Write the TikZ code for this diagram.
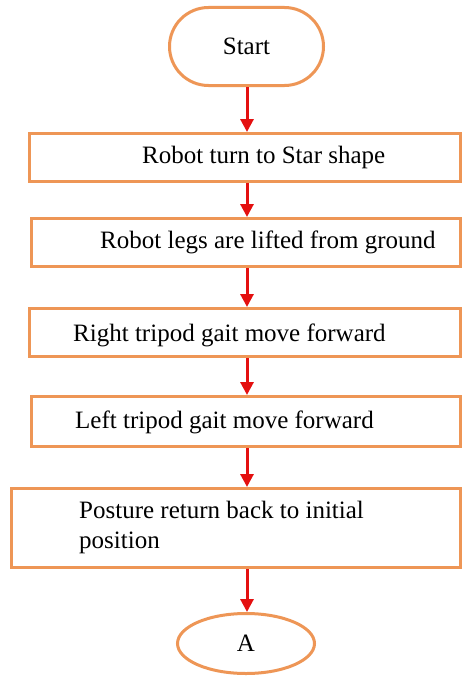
\documentclass[tikz,border=0pt]{standalone}
\usepackage{fontspec}
\setmainfont{Liberation Serif}
\usetikzlibrary{arrows.meta,shapes.geometric}
\definecolor{boxorange}{RGB}{238,150,86}
\definecolor{arrred}{RGB}{228,16,16}
\begin{document}
\begin{tikzpicture}[x=1pt,y=-1pt,
  stepbox/.style={draw=boxorange,line width=3pt,fill=white,rectangle,inner sep=0pt},
  term/.style={draw=boxorange,line width=3pt,fill=white,rectangle,rounded corners=39pt,inner sep=0pt,font=\fontsize{25}{29}\selectfont},
  oval/.style={draw=boxorange,line width=3pt,fill=white,ellipse,inner sep=0pt,font=\fontsize{25}{29}\selectfont},
  lbl/.style={anchor=west,inner sep=0pt,font=\fontsize{25}{30}\selectfont,align=left},
  arr/.style={draw=arrred,line width=3pt,-{Triangle[width=13pt,length=13pt]}}]
\useasboundingbox[fill=white] (0,0) rectangle (464,677);
\node[term,minimum width=154pt,minimum height=78pt] (start) at (246.5,46.5) {Start};
\node[stepbox,minimum width=431pt,minimum height=48pt] (b1) at (245,157.5) {};
\node[stepbox,minimum width=429pt,minimum height=48pt] (b2) at (246,242.5) {};
\node[stepbox,minimum width=431pt,minimum height=48pt] (b3) at (245,332.5) {};
\node[stepbox,minimum width=429pt,minimum height=50pt] (b4) at (246,421.5) {};
\node[stepbox,minimum width=449pt,minimum height=79pt] (b5) at (236,528) {};
\node[oval,minimum width=137pt,minimum height=60pt] (endA) at (246,643.5) {A};
\node[lbl] (t1) at (142,157) {Robot turn to Star shape};
\node[lbl] (t2) at (100,242) {Robot legs are lifted from ground};
\node[lbl] (t3) at (73,335) {Right tripod gait move forward};
\node[lbl] (t4) at (75,422) {Left tripod gait move forward};
\node[lbl] (t5) at (79,527) {Posture return back to initial\\position};
\coordinate (ax) at (247,0);
\draw[arr] (start.south -| ax) -- (b1.north -| ax);
\draw[arr] (b1.south -| ax) -- (b2.north -| ax);
\draw[arr] (b2.south -| ax) -- (b3.north -| ax);
\draw[arr] (b3.south -| ax) -- (b4.north -| ax);
\draw[arr] (b4.south -| ax) -- (b5.north -| ax);
\draw[arr] (b5.south -| ax) -- (endA.north -| ax);
\end{tikzpicture}
\end{document}
